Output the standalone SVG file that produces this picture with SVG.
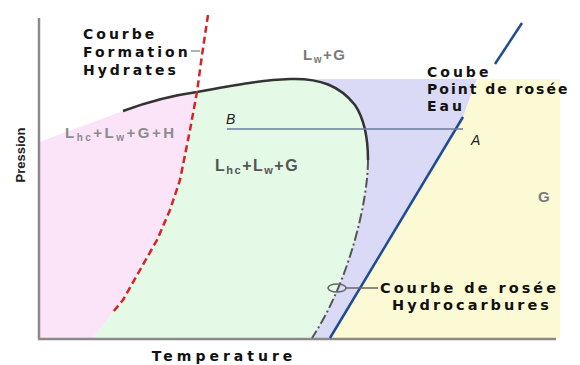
<svg xmlns="http://www.w3.org/2000/svg" width="580" height="365" viewBox="0 0 580 365">
<style>
.lbl{font-family:"DejaVu Sans",Verdana,sans-serif;font-weight:bold;font-size:14px;fill:#111;letter-spacing:3px}
.ph{font-family:"Liberation Sans",Arial,sans-serif;font-weight:bold;letter-spacing:1.5px}
.it{font-family:"Liberation Sans",Arial,sans-serif;font-style:italic;font-size:14px;fill:#222}
.axis{stroke:#8a8a8a;stroke-width:2.5;fill:none}
</style>
<rect width="580" height="365" fill="#fff"/>
<g id="regions">
  <polygon id="lavender" points="300,79 477,79 463,117 330,338 300,338" fill="#dadaf6"/>
  <polygon id="yellow" points="477,79 560,79 560,338 330,338 463,117" fill="#fbfad4"/>
  <path id="pink" d="M39,142 L123,111 C150,101 175,95 197,92 L190,130 L180,180 L170,210 L157,240 L140,270 L123,300 L113,312 L93,338 L39,338 Z" fill="#fbe3f8"/>
  <path id="green" d="M197,92 C230,86 260,80 290,79 C320,78 340,86 355,105 C365,120 368,140 368,160 C368,200 350,280 312,338 L93,338 L113,312 L123,300 L140,270 L157,240 L170,210 L180,180 L190,130 Z" fill="#e4f9e6"/>
</g>
<g id="axes">
  <line class="axis" x1="39" y1="18" x2="39" y2="339"/>
  <line class="axis" x1="38" y1="339" x2="556" y2="339"/>
</g>
<g id="connectors">
  <path id="envelope" d="M123,111 C150,101 175,95 197,92 C230,86 260,80 290,79 C320,78 340,86 355,105 C365,120 368,140 368,160" fill="none" stroke="#333" stroke-width="2.5"/>
  <path id="envelope-low" d="M368,160 C368,200 350,280 312,338" fill="none" stroke="#555" stroke-width="2" stroke-dasharray="10,3,2,3"/>
  <path id="hydrates" d="M208,15 L202,55 L197,92 L190,130 L180,180 L170,210 L157,240 L140,270 L123,300 L113,312" fill="none" stroke="#d42424" stroke-width="2.5" stroke-dasharray="7,4"/>
  <line id="dew-water-top" x1="522" y1="23" x2="495" y2="64" stroke="#1f4b96" stroke-width="2.5"/>
  <line id="dew-water" x1="463" y1="117" x2="330" y2="338" stroke="#1f4b96" stroke-width="2.5"/>
  <line id="BA" x1="227" y1="129" x2="463" y2="129" stroke="#6a7c9c" stroke-width="1.5"/>
  <line id="lead-formation" x1="191" y1="51" x2="200" y2="51" stroke="#999" stroke-width="1.5"/>
  <ellipse id="lead-ellipse" cx="337" cy="288" rx="9" ry="4" fill="none" stroke="#666" stroke-width="1.5"/>
  <line id="lead-hc" x1="346" y1="288" x2="378" y2="288" stroke="#666" stroke-width="1.5"/>
</g>
<g id="label-hydrates">
  <text class="lbl" x="83" y="39">Courbe</text>
  <text class="lbl" x="83" y="57">Formation</text>
  <text class="lbl" x="83" y="75">Hydrates</text>
</g>
<g id="label-water">
  <text class="lbl" x="427" y="77">Coube</text>
  <text class="lbl" x="427" y="94" style="letter-spacing:2px">Point de rosée</text>
  <text class="lbl" x="427" y="111">Eau</text>
</g>
<g id="label-hc">
  <text class="lbl" x="380" y="293" style="font-size:14.5px;letter-spacing:3px">Courbe de rosée</text>
  <text class="lbl" x="392" y="310" style="font-size:14.5px;letter-spacing:3px">Hydrocarbures</text>
</g>
<g id="phase-pink">
  <text class="ph" x="65" y="138" font-size="15" fill="#8c8c8c" style="letter-spacing:2.5px">L<tspan font-size="10" dy="3">hc</tspan><tspan dy="-3">+L</tspan><tspan font-size="10" dy="3">w</tspan><tspan dy="-3">+G+H</tspan></text>
</g>
<g id="phase-green">
  <text class="ph" x="215" y="171" font-size="16" fill="#555">L<tspan font-size="11" dy="3">hc</tspan><tspan dy="-3">+L</tspan><tspan font-size="11" dy="3">w</tspan><tspan dy="-3">+G</tspan></text>
</g>
<g id="phase-lavender">
  <text class="ph" x="303" y="60" font-size="15" fill="#7a7a7a">L<tspan font-size="10" dy="3">w</tspan><tspan dy="-3">+G</tspan></text>
</g>
<g id="phase-yellow">
  <text class="ph" x="538" y="202" font-size="15" fill="#7a7a7a">G</text>
</g>
<g id="points">
  <text class="it" x="226" y="124">B</text>
  <text class="it" x="471" y="145">A</text>
</g>
<g id="axis-labels">
  <text transform="translate(25,155) rotate(-90)" text-anchor="middle" font-family="Liberation Sans, Arial, sans-serif" font-weight="bold" font-size="13" fill="#222">Pression</text>
  <text x="224" y="361" text-anchor="middle" class="lbl" style="letter-spacing:4px">Temperature</text>
</g>
</svg>
